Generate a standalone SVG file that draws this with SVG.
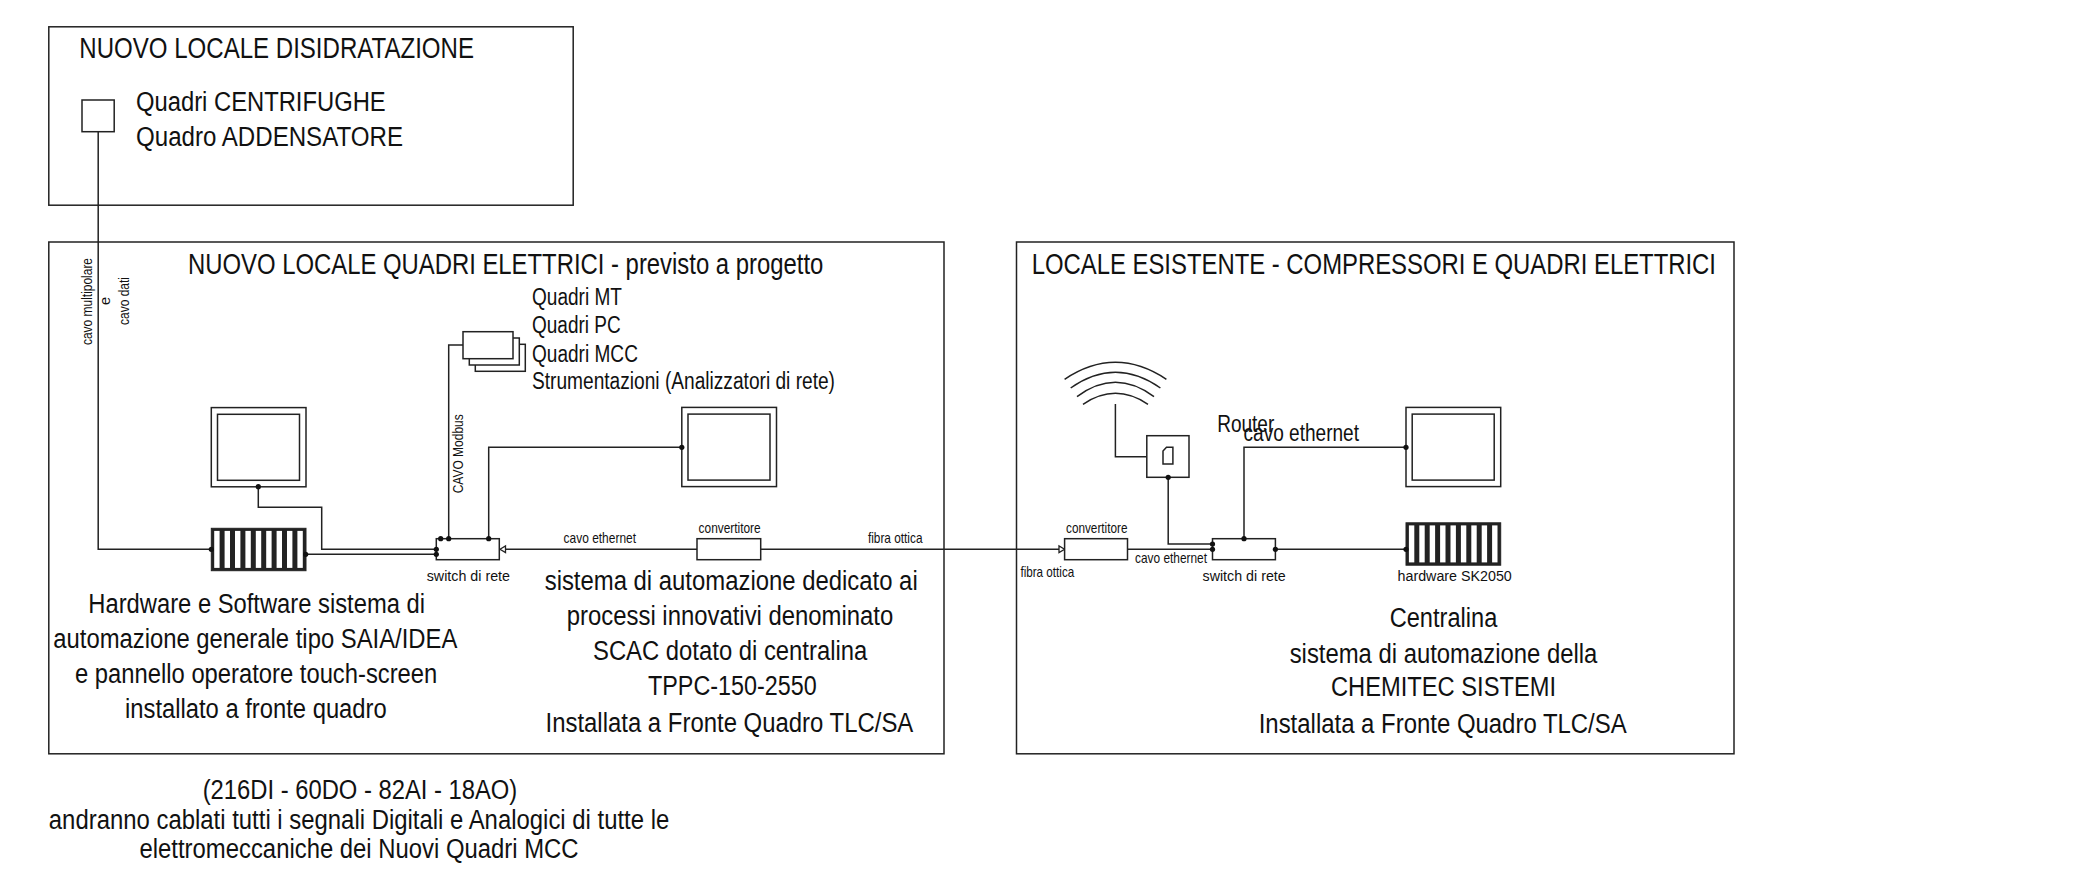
<svg xmlns="http://www.w3.org/2000/svg" xmlns:xlink="http://www.w3.org/1999/xlink" width="2081" height="874" viewBox="0 0 2081 874">
<style>
text{font-family:"Liberation Sans",Arial,sans-serif;fill:#111;}
.s,.b,.w{stroke:#222;stroke-width:1.5;}
.s{fill:#fff;}
.b{fill:none;}
.w{fill:#fff;stroke-width:1.3;}
.l{fill:none;stroke:#222;stroke-width:1.5;}
.d{fill:#111;}
.f28{font-size:30px}.f24{font-size:27px}.f21{font-size:23px}.f14{font-size:15.5px}.f13{font-size:14.5px}
</style>
<defs>
<g id="monitor">
<rect class="s" x="0" y="0" width="94.7" height="79.2"/>
<rect class="s" x="6.2" y="6.7" width="82" height="66"/>
</g>
<g id="rack">
<rect x="0" y="0" width="94.7" height="42.4" fill="#222" stroke="#222" stroke-width="1"/>
<rect fill="#fff" x="2.9" y="2.6" width="5.4" height="37"/>
<rect fill="#fff" x="13.3" y="2.6" width="5.4" height="37"/>
<rect fill="#fff" x="23.7" y="2.6" width="5.4" height="37"/>
<rect fill="#fff" x="34.1" y="2.6" width="5.4" height="37"/>
<rect fill="#fff" x="44.5" y="2.6" width="5.4" height="37"/>
<rect fill="#fff" x="54.9" y="2.6" width="5.4" height="37"/>
<rect fill="#fff" x="65.3" y="2.6" width="5.4" height="37"/>
<rect fill="#fff" x="75.7" y="2.6" width="5.4" height="37"/>
<rect fill="#fff" x="86.1" y="2.6" width="5.4" height="37"/>
</g>
</defs>
<rect width="2081" height="874" fill="#fff"/>

<g id="room-disidratazione">
<rect class="b" x="48.8" y="26.8" width="524.4" height="178.4"/>
<text class="f28" x="79.3" y="58.3" textLength="394.7" lengthAdjust="spacingAndGlyphs">NUOVO LOCALE DISIDRATAZIONE</text>
</g>
<g id="room-quadri">
<rect class="b" x="48.8" y="242" width="895.2" height="511.8"/>
<text class="f28" x="188" y="274" textLength="635.3" lengthAdjust="spacingAndGlyphs">NUOVO LOCALE QUADRI ELETTRICI - previsto a progetto</text>
</g>
<g id="room-esistente">
<rect class="b" x="1016.5" y="242" width="717.5" height="511.8"/>
<text class="f28" x="1031.7" y="274" textLength="684.3" lengthAdjust="spacingAndGlyphs">LOCALE ESISTENTE - COMPRESSORI E QUADRI ELETTRICI</text>
</g>

<g id="connectors">
<path class="l" d="M98.2 131.7V549.3H211.3"/>
<path class="l" d="M258.3 486.7V507.3H321.7V549.3H436.3"/>
<path class="l" d="M305.7 554.3H436.3"/>
<path class="l" d="M448.7 538.7V345H463"/>
<path class="l" d="M488.7 538.7V447.3H681.8"/>
<path class="l" d="M505 549.3H697"/>
<path class="l" d="M760.7 549.3H1059"/>
<path class="l" d="M1127.5 549.3H1212.5"/>
<path class="l" d="M1168.2 477.3V544H1212.5"/>
<path class="l" d="M1244 538.7V447.3H1406"/>
<path class="l" d="M1275.4 549.3H1406"/>
<path class="l" d="M1146.8 456.7H1115.4V404"/>
<path class="w" d="M500 549.3L505.5 546V552.6Z"/>
<path class="w" d="M1064.6 549.3L1059 546V552.6Z"/>
</g>

<g id="quadri-centrifughe">
<rect class="s" x="82" y="100" width="32.2" height="31.7"/>
<text class="f24" x="136" y="111.3" textLength="249.7" lengthAdjust="spacingAndGlyphs">Quadri CENTRIFUGHE</text>
<text class="f24" x="136" y="146" textLength="267" lengthAdjust="spacingAndGlyphs">Quadro ADDENSATORE</text>
</g>

<g id="hmi-saia"><use href="#monitor" x="211.3" y="407.6"/></g>
<g id="hardware-saia"><use href="#rack" x="211.3" y="528.3"/></g>

<g id="quadri-stack">
<rect class="s" x="475.3" y="344.3" width="50" height="27"/>
<rect class="s" x="469.3" y="338" width="50" height="27"/>
<rect class="s" x="463" y="331.7" width="50" height="27"/>
<text class="f21" x="532" y="305" textLength="90" lengthAdjust="spacingAndGlyphs">Quadri MT</text>
<text class="f21" x="532" y="333.3" textLength="88.7" lengthAdjust="spacingAndGlyphs">Quadri PC</text>
<text class="f21" x="532" y="361.7" textLength="105.9" lengthAdjust="spacingAndGlyphs">Quadri MCC</text>
<text class="f21" x="532" y="389.3" textLength="303" lengthAdjust="spacingAndGlyphs">Strumentazioni (Analizzatori di rete)</text>
</g>

<g id="switch-1">
<rect class="s" x="436.3" y="538.7" width="63" height="21"/>
<text class="f14" x="426.7" y="580.7" textLength="83.3" lengthAdjust="spacingAndGlyphs">switch di rete</text>
</g>
<g id="hmi-scac"><use href="#monitor" x="681.8" y="407.4"/></g>
<g id="convertitore-1">
<rect class="s" x="697" y="538.7" width="63.7" height="21"/>
<text class="f13" x="698.6" y="532.7" textLength="62.1" lengthAdjust="spacingAndGlyphs">convertitore</text>
</g>
<g id="convertitore-2">
<rect class="s" x="1064.6" y="538.7" width="62.9" height="21"/>
<text class="f13" x="1066" y="532.7" textLength="61.5" lengthAdjust="spacingAndGlyphs">convertitore</text>
</g>
<g id="switch-2">
<rect class="s" x="1212.5" y="538.7" width="62.9" height="21"/>
<text class="f14" x="1202.5" y="580.7" textLength="83.2" lengthAdjust="spacingAndGlyphs">switch di rete</text>
</g>
<g id="router">
<rect class="s" x="1146.8" y="435.7" width="42.2" height="41.6"/>
<path class="b" d="M1163 464V451L1166.5 447.3H1172.9V464Z"/>
<text class="f21" x="1217.2" y="432.3" textLength="57.1" lengthAdjust="spacingAndGlyphs">Router</text>
</g>
<g id="antenna">
<path class="b" d="M1064.6 379.3Q1115.4 345.3 1166.4 379.3"/>
<path class="b" d="M1070.7 388Q1115.4 356.6 1160.4 388"/>
<path class="b" d="M1077 396.7Q1115.4 367.9 1154 396.7"/>
<path class="b" d="M1083 404.3Q1115.4 382.3 1148 404.3"/>
</g>
<g id="hmi-chemitec"><use href="#monitor" x="1406" y="407.4"/></g>
<g id="hardware-sk2050">
<use href="#rack" x="1406" y="522.8"/>
<text class="f14" x="1397.5" y="580.7" textLength="114.3" lengthAdjust="spacingAndGlyphs">hardware SK2050</text>
</g>

<g id="connector-dots">
<circle class="d" cx="211.3" cy="549.3" r="2.6"/>
<circle class="d" cx="305.7" cy="554.3" r="2.6"/>
<circle class="d" cx="258.3" cy="486.7" r="2.6"/>
<circle class="d" cx="436.3" cy="549.3" r="2.6"/>
<circle class="d" cx="436.3" cy="554.3" r="2.6"/>
<circle class="d" cx="440.7" cy="538.7" r="2.6"/>
<circle class="d" cx="448.7" cy="538.7" r="2.6"/>
<circle class="d" cx="488.7" cy="538.7" r="2.6"/>
<circle class="d" cx="681.8" cy="447.3" r="2.6"/>
<circle class="d" cx="1168.2" cy="477.3" r="2.6"/>
<circle class="d" cx="1212.5" cy="544" r="2.6"/>
<circle class="d" cx="1212.5" cy="549.3" r="2.6"/>
<circle class="d" cx="1244" cy="538.7" r="2.6"/>
<circle class="d" cx="1275.4" cy="549.3" r="2.6"/>
<circle class="d" cx="1406" cy="447.3" r="2.6"/>
<circle class="d" cx="1406" cy="549.3" r="2.6"/>
</g>

<g id="connector-labels">
<text class="f13" transform="translate(91.5 345) rotate(-90)" textLength="87" lengthAdjust="spacingAndGlyphs">cavo multipolare</text>
<text class="f13" transform="translate(109.5 305) rotate(-90)">e</text>
<text class="f13" transform="translate(129 325) rotate(-90)" textLength="48" lengthAdjust="spacingAndGlyphs">cavo dati</text>
<text class="f14" transform="translate(462.7 493.3) rotate(-90)" textLength="79" lengthAdjust="spacingAndGlyphs">CAVO Modbus</text>
<text class="f13" x="563.6" y="542.7" textLength="72.4" lengthAdjust="spacingAndGlyphs">cavo ethernet</text>
<text class="f13" x="867.9" y="542.7" textLength="54.6" lengthAdjust="spacingAndGlyphs">fibra ottica</text>
<text class="f13" x="1135" y="562.7" textLength="72" lengthAdjust="spacingAndGlyphs">cavo ethernet</text>
<text class="f13" x="1020.4" y="577.3" textLength="53.9" lengthAdjust="spacingAndGlyphs">fibra ottica</text>
<text class="f21" x="1243.6" y="441" textLength="115.4" lengthAdjust="spacingAndGlyphs">cavo ethernet</text>
</g>

<g id="note-saia">
<text class="f24" x="88.3" y="612.7" textLength="336.7" lengthAdjust="spacingAndGlyphs">Hardware e Software sistema di</text>
<text class="f24" x="53.3" y="648.3" textLength="404" lengthAdjust="spacingAndGlyphs">automazione generale tipo SAIA/IDEA</text>
<text class="f24" x="75" y="683.3" textLength="362.3" lengthAdjust="spacingAndGlyphs">e pannello operatore touch-screen</text>
<text class="f24" x="125" y="718.3" textLength="261.7" lengthAdjust="spacingAndGlyphs">installato a fronte quadro</text>
</g>
<g id="note-scac">
<text class="f24" x="544.7" y="590" textLength="373" lengthAdjust="spacingAndGlyphs">sistema di automazione dedicato ai</text>
<text class="f24" x="566.8" y="625" textLength="326.5" lengthAdjust="spacingAndGlyphs">processi innovativi denominato</text>
<text class="f24" x="593" y="660" textLength="274.3" lengthAdjust="spacingAndGlyphs">SCAC dotato di centralina</text>
<text class="f24" x="648" y="695" textLength="168.7" lengthAdjust="spacingAndGlyphs">TPPC-150-2550</text>
<text class="f24" x="545.5" y="731.7" textLength="367.8" lengthAdjust="spacingAndGlyphs">Installata a Fronte Quadro TLC/SA</text>
</g>
<g id="note-chemitec">
<text class="f24" x="1389.7" y="627.3" textLength="107.6" lengthAdjust="spacingAndGlyphs">Centralina</text>
<text class="f24" x="1289.7" y="662.7" textLength="307.6" lengthAdjust="spacingAndGlyphs">sistema di automazione della</text>
<text class="f24" x="1331" y="696" textLength="225" lengthAdjust="spacingAndGlyphs">CHEMITEC SISTEMI</text>
<text class="f24" x="1258.7" y="732.7" textLength="368" lengthAdjust="spacingAndGlyphs">Installata a Fronte Quadro TLC/SA</text>
</g>
<g id="note-segnali">
<text class="f24" x="202.7" y="799.3" textLength="314.6" lengthAdjust="spacingAndGlyphs">(216DI - 60DO - 82AI - 18AO)</text>
<text class="f24" x="48.8" y="829.3" textLength="620.5" lengthAdjust="spacingAndGlyphs">andranno cablati tutti i segnali Digitali e Analogici di tutte le</text>
<text class="f24" x="139.5" y="858.3" textLength="439.1" lengthAdjust="spacingAndGlyphs">elettromeccaniche dei Nuovi Quadri MCC</text>
</g>
</svg>
